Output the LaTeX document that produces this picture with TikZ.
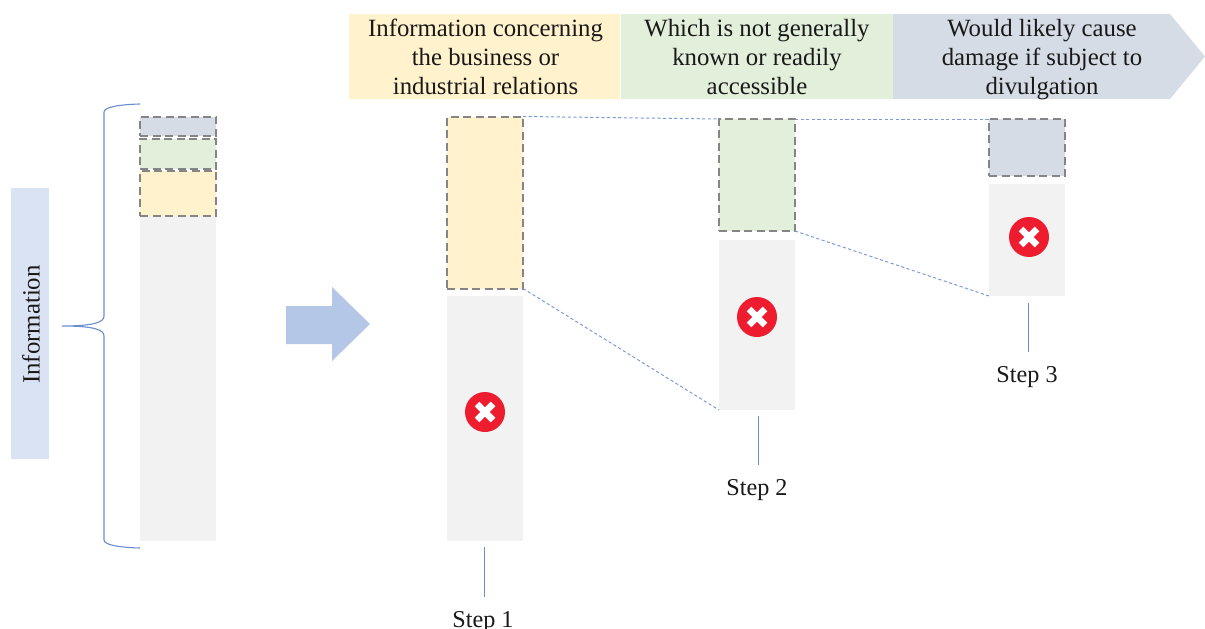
\documentclass[tikz,border=0pt]{standalone}
\usepackage{fontspec}
\setmainfont{Liberation Serif}
\definecolor{cyellow}{HTML}{FFF2CC}
\definecolor{cgreen}{HTML}{E2EFDA}
\definecolor{cslate}{HTML}{D6DCE5}
\definecolor{cgray}{HTML}{F2F2F2}
\definecolor{cblue}{HTML}{DAE3F3}
\definecolor{carrow}{HTML}{B4C7E7}
\definecolor{cline}{HTML}{4472C4}
\definecolor{cred}{HTML}{ED1C2E}
\tikzset{
  x=1pt,y=-1pt,
  base/.style={inner sep=0pt,outer sep=0pt,anchor=north west},
  graybar/.style={base,fill=cgray},
  dashbar/.style={base,draw=black!48,line width=2pt,dash pattern=on 8pt off 4.5pt},
  headtxt/.style={align=center,inner sep=0pt,font=\fontsize{24.8}{29}\selectfont,text=black!90},
  steplabel/.style={inner sep=0pt,font=\fontsize{24.2}{29}\selectfont,text=black!90},
  stem/.style={draw=cline!80,line width=0.9pt},
  guide/.style={draw=cline!70,line width=1pt,dash pattern=on 3.2pt off 2.4pt},
  xcirc/.style={circle,fill=cred,minimum size=40pt,inner sep=0pt,outer sep=0pt},
  xmark/.style={draw=white,line width=6.5pt},
}
\newcommand{\crossat}[1]{\draw[xmark] (#1.center) +(-8,-8) -- +(8,8);\draw[xmark] (#1.center) +(-8,8) -- +(8,-8);}
\begin{document}
\begin{tikzpicture}
\useasboundingbox (0,0) rectangle (1205,629);
% header
\node[base,fill=cyellow,minimum width=271pt,minimum height=85pt] (h1) at (349,14) {};
\node[base,fill=cgreen,minimum width=272pt,minimum height=85pt] (h2) at (621,14) {};
\fill[cslate] (893,14) -- (1170,14) -- (1205,56.5) -- (1170,99) -- (893,99) -- cycle;
\node[headtxt] (t1) at (485.5,57) {Information concerning\\the business or\\industrial relations};
\node[headtxt] (t2) at (757,57) {Which is not generally\\known or readily\\accessible};
\node[headtxt] (t3) at (1042,60) {Would likely cause\\damage if subject to\\divulgation};
% information
\node[base,fill=cblue,minimum width=38pt,minimum height=271pt] (info) at (11,188) {};
\node[rotate=90,inner sep=0pt,font=\fontsize{24.8}{29}\selectfont,text=black!90] (infot) at (31,324.5) {Information};
% brace
\coordinate (btop) at (140,104);
\coordinate (bbot) at (140,548);
\coordinate (btip) at (62,326);
\draw[draw=cline!80,line width=1.1pt] (btop) .. controls (120,104.5) and (104,107) .. (104,112) -- (104,316) .. controls (104,322) and (95,326) .. (btip) .. controls (95,326) and (104,330) .. (104,336) -- (104,540) .. controls (104,545) and (120,547.5) .. (bbot);
% left stack
\node[graybar,minimum width=76pt,minimum height=325pt] (lg) at (140,216) {};
\node[dashbar,fill=cslate,minimum width=76pt,minimum height=19pt] (l3) at (140,116.5) {};
\node[dashbar,fill=cgreen,minimum width=76pt,minimum height=30pt] (l2) at (140,139) {};
\node[dashbar,fill=cyellow,minimum width=76pt,minimum height=45pt] (l1) at (140,171) {};
% block arrow
\fill[carrow] (286,306) -- (332,306) -- (332,287) -- (370,324) -- (332,361) -- (332,344) -- (286,344) -- cycle;
% columns
\node[graybar,minimum width=76pt,minimum height=245pt] (g1) at (447,296) {};
\node[graybar,minimum width=76pt,minimum height=170pt] (g2) at (719,240) {};
\node[graybar,minimum width=76pt,minimum height=112pt] (g3) at (989,184) {};
\node[dashbar,fill=cyellow,minimum width=76pt,minimum height=172pt] (d1) at (447,116.5) {};
\node[dashbar,fill=cgreen,minimum width=76pt,minimum height=112pt] (d2) at (719,119) {};
\node[dashbar,fill=cslate,minimum width=76pt,minimum height=57pt] (d3) at (989,119) {};
% guides
\draw[guide] (d1.north east) -- (d2.north west);
\draw[guide] (d2.north east) -- (d3.north west);
\draw[guide] (d1.south east) -- (g2.south west);
\draw[guide] (d2.south east) -- (g3.south west);
% crosses
\node[xcirc] (x1) at (485,412) {};
\node[xcirc] (x2) at (757,317) {};
\node[xcirc] (x3) at (1029,237) {};
\crossat{x1}\crossat{x2}\crossat{x3}
% steps
\node[steplabel] (s1) at (483,622) {Step 1};
\node[steplabel] (s2) at (757,490) {Step 2};
\node[steplabel] (s3) at (1027,377) {Step 3};
\draw[stem] (g1.south -| s1.north) ++(1,6) -- ([xshift=1pt,yshift=14pt]s1.north);
\draw[stem] (g2.south -| s2.north) ++(1,6) -- ([xshift=1pt,yshift=14pt]s2.north);
\draw[stem] (g3.south -| s3.north) ++(1,7) -- ([xshift=1pt,yshift=14pt]s3.north);
\end{tikzpicture}
\end{document}
